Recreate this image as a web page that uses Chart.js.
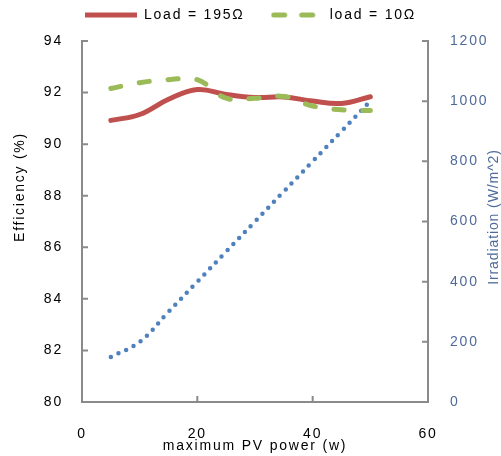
<!DOCTYPE html>
<html>
<head>
<meta charset="utf-8">
<script src="https://cdn.jsdelivr.net/npm/chart.js@4/dist/chart.umd.min.js"></script>
<style>
  html, body { margin: 0; padding: 0; background: #fff; }
</style>
</head>
<body>
<canvas id="myChart" width="501" height="456"></canvas>
<script>
// maximum PV power (W) at each measurement point
const powerW = [5, 10, 15, 20, 25, 30, 35, 40, 45, 50];
// converter efficiency (%) for both loads
const effLoad195 = [90.92, 91.15, 91.74, 92.12, 91.93, 91.81, 91.83, 91.67, 91.58, 91.84];
const effLoad10 = [92.16, 92.38, 92.5, 92.5, 91.78, 91.78, 91.85, 91.48, 91.33, 91.3];
// solar irradiation (W/m^2)
const irradiation = [150, 200, 300, 400, 500, 600, 700, 800, 900, 1000];

const seriesNames = ['Load = 195Ω', 'load = 10Ω', 'Irradiation'];

// tick values for each axis
const powerTicks = [0, 20, 40, 60];
const effTicks = [80, 82, 84, 86, 88, 90, 92, 94];
const irrTicks = [0, 200, 400, 600, 800, 1000, 1200];

const FONT = "'Liberation Sans', Arial, sans-serif";
const axisGrey = '#8a8a8a';
const irrColor = '#4f6a9a';

Chart.defaults.font.family = FONT;
Chart.defaults.font.size = 14;
Chart.defaults.color = '#000';

const pts = (ys) => powerW.map((p, i) => ({ x: p, y: ys[i] }));
const useTicks = (vals) => (scale) => { scale.ticks = vals.map(v => ({ value: v })); };
const plain = (v) => String(v);

// small line sample for the legend (keeps the dash pattern)
function lineSample(color, width, dash) {
  const c = document.createElement('canvas');
  c.width = 52;
  c.height = 8;
  const g = c.getContext('2d');
  g.strokeStyle = color;
  g.lineWidth = width;
  g.lineCap = dash.length ? 'round' : 'butt';
  g.setLineDash(dash);
  g.beginPath();
  g.moveTo(dash.length ? 3 : 0, 4);
  g.lineTo(52, 4);
  g.stroke();
  return c;
}

// wide letter spacing on all canvas text
const spacing = {
  id: 'spacing',
  beforeUpdate(chart) { chart.ctx.letterSpacing = '1.8px'; },
  beforeDraw(chart) { chart.ctx.letterSpacing = '1.8px'; }
};

// legend row sits closer to the top edge than the layout gives it
const legendNudge = {
  id: 'legendNudge',
  afterLayout(chart) {
    if (chart.legend) {
      chart.legend.top -= 9;
      chart.legend.bottom -= 9;
    }
  }
};

// inward tick marks + rotated y titles
const axisDecor = {
  id: 'axisDecor',
  afterDatasetsDraw(chart) {
    const { ctx } = chart;
    const { x, y, y1 } = chart.scales;
    ctx.save();
    ctx.strokeStyle = axisGrey;
    ctx.lineWidth = 2;
    ctx.beginPath();
    x.ticks.forEach((t, i) => {
      const px = x.getPixelForTick(i);
      ctx.moveTo(px, x.top);
      ctx.lineTo(px, x.top - 6);
    });
    y.ticks.forEach((t, i) => {
      const py = y.getPixelForTick(i);
      ctx.moveTo(y.right, py);
      ctx.lineTo(y.right + 6, py);
    });
    y1.ticks.forEach((t, i) => {
      const py = y1.getPixelForTick(i);
      ctx.moveTo(y1.left, py);
      ctx.lineTo(y1.left - 6, py);
    });
    ctx.stroke();

    ctx.textAlign = 'center';
    ctx.textBaseline = 'middle';
    ctx.font = '14px ' + FONT;

    ctx.save();
    ctx.letterSpacing = '1.75px';
    ctx.fillStyle = '#000';
    ctx.translate(20, 187);
    ctx.rotate(-Math.PI / 2);
    ctx.fillText('Efficiency (%)', 0, 0);
    ctx.restore();

    ctx.save();
    ctx.letterSpacing = '0.9px';
    ctx.fillStyle = irrColor;
    ctx.translate(494, 217);
    ctx.rotate(-Math.PI / 2);
    ctx.fillText('Irradiation (W/m^2)', 0, 0);
    ctx.restore();

    ctx.restore();
  }
};

const chartCanvas = document.getElementById('myChart').getContext('2d');
new Chart(chartCanvas, {
  type: 'line',
  data: {
    datasets: [
      {
        label: seriesNames[0],
        data: pts(effLoad195),
        yAxisID: 'y',
        borderColor: '#c0504d',
        borderWidth: 5,
        borderCapStyle: 'round',
        pointRadius: 0,
        pointStyle: lineSample('#c0504d', 5, []),
        tension: 0.4,
        order: 2
      },
      {
        label: seriesNames[1],
        data: pts(effLoad10),
        yAxisID: 'y',
        borderColor: '#9bbb59',
        borderWidth: 5,
        borderDash: [10, 19],
        borderCapStyle: 'round',
        pointRadius: 0,
        pointStyle: lineSample('#9bbb59', 5, [11, 17]),
        tension: 0.4,
        order: 1
      },
      {
        label: seriesNames[2],
        data: pts(irradiation),
        yAxisID: 'y1',
        borderColor: '#4f81bd',
        borderWidth: 4.5,
        borderDash: [0, 8.4],
        borderCapStyle: 'round',
        pointRadius: 0,
        tension: 0.4,
        order: 3
      }
    ]
  },
  options: {
    responsive: false,
    animation: false,
    layout: { padding: { top: -9, left: 0, right: 0, bottom: 0 } },
    plugins: {
      tooltip: { enabled: false },
      legend: {
        position: 'top',
        labels: {
          usePointStyle: true,
          pointStyleWidth: 52,
          padding: 26,
          color: '#000',
          font: { size: 14 },
          filter: (item) => item.datasetIndex !== 2,
          sort: (a, b) => a.datasetIndex - b.datasetIndex
        }
      }
    },
    scales: {
      x: {
        type: 'linear',
        position: 'bottom',
        min: 0,
        max: 60,
        afterBuildTicks: useTicks(powerTicks),
        afterFit: (s) => { s.height = 54; },
        grid: { display: true, drawOnChartArea: false, drawTicks: false },
        border: { display: true, color: axisGrey, width: 2 },
        ticks: { padding: 24, color: '#000', font: { size: 14 }, callback: plain },
        title: {
          display: true,
          text: 'maximum PV power (w)',
          color: '#000',
          font: { size: 14 },
          padding: { top: 0, bottom: 1 }
        }
      },
      y: {
        position: 'left',
        min: 80,
        max: 94,
        afterBuildTicks: useTicks(effTicks),
        afterFit: (s) => { s.width = 82; s.paddingTop = 41; },
        grid: { display: true, drawOnChartArea: false, drawTicks: false },
        border: { display: true, color: axisGrey, width: 2 },
        ticks: { padding: 19, color: '#000', font: { size: 14 }, callback: plain }
      },
      y1: {
        position: 'right',
        min: 0,
        max: 1200,
        afterBuildTicks: useTicks(irrTicks),
        afterFit: (s) => { s.width = 73; },
        grid: { display: true, drawOnChartArea: false, drawTicks: false },
        border: { display: true, color: axisGrey, width: 2 },
        ticks: { padding: 22, color: irrColor, font: { size: 14 }, callback: plain }
      }
    }
  },
  plugins: [spacing, legendNudge, axisDecor]
});
</script>
</body>
</html>
